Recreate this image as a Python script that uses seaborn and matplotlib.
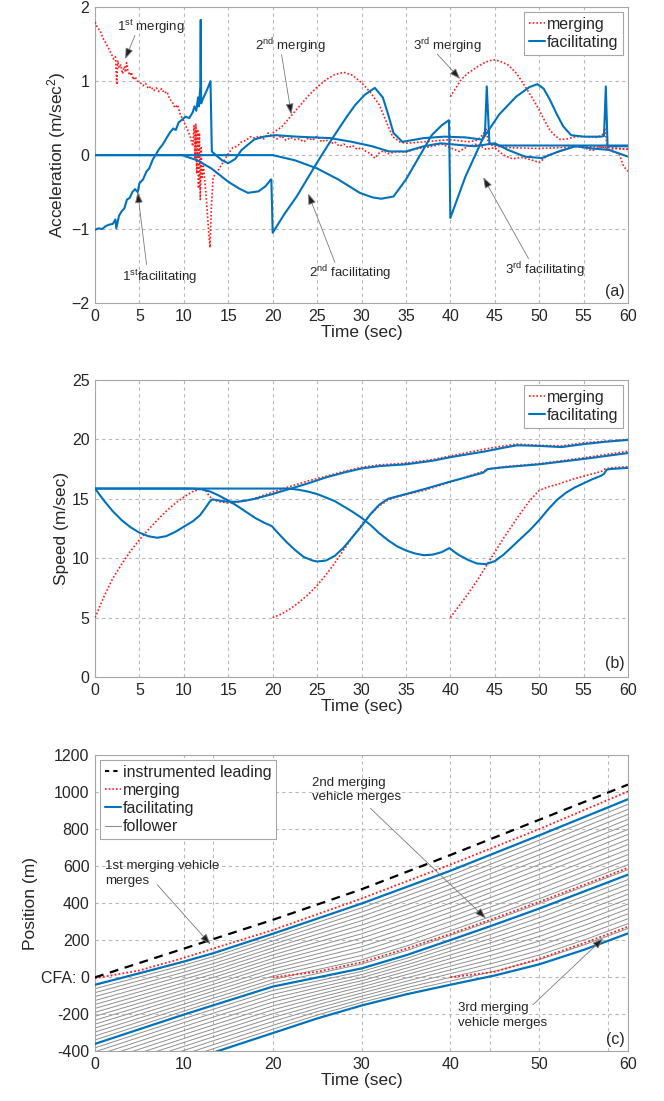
import numpy as np
import pandas as pd
import matplotlib
matplotlib.use('Agg')
import matplotlib.pyplot as plt
import seaborn as sns
from matplotlib.lines import Line2D
from matplotlib import font_manager

# ---------------- data: panel (a) acceleration ----------------
merg1_acc_t = [0, 0.3, 0.6, 0.9, 1.2, 1.5, 1.8, 2.1, 2.3, 2.45, 2.55, 2.7, 2.9, 3.1, 3.3, 3.45, 3.55, 3.7, 3.9,
               4.1, 4.3, 4.5, 4.8, 5.1, 5.4, 5.7, 6.0, 6.3, 6.6, 6.9, 7.2, 7.5, 7.8, 8.1, 8.4, 8.7, 9.0, 9.3,
               9.6, 9.9, 10.2, 10.5, 10.8, 11.0, 11.15, 11.25, 11.35, 11.45, 11.55, 11.65, 11.75, 11.85, 11.95,
               12.05, 12.2, 12.4, 12.6, 12.8, 12.95, 13.1, 13.3, 13.6, 14.0, 14.5, 15.0, 15.5, 16.0, 16.5, 17.0,
               17.5, 18.0, 18.5, 19.0, 19.5, 20.0, 20.5, 21.0, 21.5, 22.0, 22.5, 23.0, 23.5, 24.0, 24.5, 25.0,
               25.5, 26.0, 26.5, 27.0, 27.5, 28.0, 28.5, 29.0, 29.5, 30.0, 30.5, 31.0, 31.5, 32.0, 32.5, 33.0,
               34, 35, 36, 37, 38, 39, 40, 41, 42, 43, 44, 45, 46, 47, 48, 49, 50, 51, 52, 53, 54, 55, 56, 57,
               58, 59, 59.5, 60]
merg1_acc = [1.80, 1.72, 1.68, 1.58, 1.52, 1.45, 1.38, 1.30, 1.33, 0.95, 1.28, 1.18, 1.22, 1.10, 1.20, 1.12, 1.25,
             1.15, 1.08, 1.12, 1.02, 1.06, 1.00, 0.98, 0.94, 0.97, 0.90, 0.93, 0.87, 0.91, 0.86, 0.90, 0.84, 0.86,
             0.76, 0.72, 0.64, 0.68, 0.55, 0.48, 0.40, 0.32, 0.22, 0.12, 0.40, -0.05, 0.42, -0.25, 0.35, -0.45,
             0.30, -0.60, 0.10, -0.30, -0.15, -0.40, -0.70, -1.05, -1.25, -0.70, -0.30, -0.25, -0.18, -0.08, 0.02,
             0.10, 0.12, 0.18, 0.20, 0.25, 0.23, 0.26, 0.22, 0.30, 0.25, 0.22, 0.26, 0.20, 0.24, 0.21, 0.22, 0.18,
             0.23, 0.20, 0.26, 0.18, 0.21, 0.15, 0.18, 0.12, 0.15, 0.10, 0.13, 0.08, 0.10, 0.05, 0.02, -0.04, 0.03,
             0.06, 0.02, 0.05, 0.04, 0.08, 0.10, 0.12, 0.15, 0.10, 0.05, 0.12, 0.15, 0.08, 0.10, 0.00, -0.05, -0.03,
             -0.06, -0.10, 0.00, 0.04, 0.08, 0.12, 0.10, 0.06, 0.12, 0.06, 0.02, -0.15, -0.22]

merg2_acc_t = [20, 21, 22, 23, 24, 25, 26, 27, 28, 29, 30, 31, 32, 32.8, 33.5, 34.3, 35, 36, 38, 40, 42, 43,
               43.7, 44.0, 44.3, 45, 47, 50, 52, 55, 58, 60]
merg2_acc = [0.30, 0.38, 0.52, 0.66, 0.80, 0.92, 1.02, 1.09, 1.12, 1.08, 0.98, 0.85, 0.68, 0.45, 0.25, 0.18,
             0.16, 0.17, 0.19, 0.21, 0.18, 0.20, 0.28, 0.37, 0.15, 0.12, 0.10, 0.09, 0.10, 0.12, 0.10, 0.08]

merg3_acc_t = [40, 41.2, 42, 43.1, 44, 44.8, 45.6, 46.5, 47.5, 48.4, 49.2, 50, 50.6, 51.2, 51.8, 52.4, 53.2,
               54.1, 55, 56.5, 57.1, 57.4, 57.7, 58.5, 60]
merg3_acc = [0.79, 1.02, 1.11, 1.20, 1.26, 1.29, 1.27, 1.22, 1.10, 0.93, 0.78, 0.61, 0.47, 0.34, 0.26, 0.21,
             0.22, 0.25, 0.25, 0.24, 0.27, 0.36, 0.07, 0.09, 0.08]

fac1_acc_t = [0, 0.4, 0.8, 1.2, 1.6, 2.0, 2.3, 2.4, 2.7, 3.0, 3.3, 3.6, 3.9, 4.2, 4.5, 4.8, 5.0, 5.4, 5.8, 6.1,
              6.5, 6.9, 7.2, 7.6, 8.0, 8.4, 8.8, 9.1, 9.4, 9.8, 10.2, 10.6, 11.0, 11.2, 11.4, 11.6, 11.7, 11.85,
              11.9, 11.95, 12.0, 12.3, 12.6, 13.0, 13.15, 13.6, 14.3, 15.0, 15.8, 16.5, 17.2, 17.9, 19.0, 20.3,
              22.7, 24.5, 26.5, 28.9, 31.2, 33.1, 35.0, 37.0, 38.9, 40.8, 42.7, 45.0, 46.5, 48.4, 50.3, 52.2,
              54.1, 56.0, 57.9, 60]
fac1_acc = [-1.01, -0.99, -1.00, -0.96, -0.94, -0.93, -0.87, -0.99, -0.82, -0.76, -0.72, -0.60, -0.58, -0.50,
            -0.46, -0.50, -0.38, -0.33, -0.22, -0.18, -0.06, 0.02, 0.08, 0.14, 0.22, 0.30, 0.36, 0.34, 0.44, 0.48,
            0.52, 0.50, 0.58, 0.66, 0.60, 0.78, 0.66, 0.92, 1.83, 0.70, 0.72, 0.80, 0.88, 1.00, 0.05, 0.00, -0.07,
            -0.11, -0.05, 0.07, 0.14, 0.21, 0.25, 0.27, 0.25, 0.24, 0.23, 0.18, 0.12, 0.05, 0.05, 0.12, 0.16, 0.14,
            0.12, 0.16, 0.07, -0.02, -0.04, 0.05, 0.12, 0.09, 0.07, -0.02]

fac2_acc_t = [0, 9.8, 11.5, 13.1, 15.0, 16.2, 17.2, 18.4, 19.2, 19.8, 19.85, 20.0, 21.3, 22.7, 24.0, 25.0, 26.2,
              27.4, 28.4, 29.3, 30.4, 31.5, 32.4, 33.0, 33.6, 34.6, 37.0, 39.3, 41.7, 43.6, 43.9, 44.1, 44.4,
              45.5, 50, 55, 60]
fac2_acc = [0.0, 0.0, -0.07, -0.18, -0.36, -0.45, -0.51, -0.49, -0.42, -0.33, -0.33, -1.05, -0.80, -0.56, -0.30,
            -0.10, 0.13, 0.35, 0.53, 0.68, 0.82, 0.91, 0.78, 0.55, 0.30, 0.18, 0.23, 0.25, 0.24, 0.21, 0.30, 0.93,
            0.16, 0.13, 0.13, 0.13, 0.13]

fac3_acc_t = [0, 20, 22.5, 25, 27.4, 29.8, 31.2, 32.2, 33.6, 35.0, 36.5, 37.9, 39.0, 39.8, 39.85, 40.0, 41.7,
              43.6, 45.5, 47.4, 48.9, 49.8, 50.5, 51.2, 52.0, 52.7, 53.6, 55.0, 57.0, 57.3, 57.5, 57.7, 58.5, 60]
fac3_acc = [0.0, 0.0, -0.07, -0.18, -0.33, -0.51, -0.57, -0.59, -0.56, -0.33, -0.02, 0.27, 0.40, 0.47, 0.47,
            -0.85, -0.29, 0.21, 0.55, 0.79, 0.92, 0.96, 0.90, 0.75, 0.55, 0.39, 0.27, 0.25, 0.25, 0.26, 0.93, 0.12,
            0.12, 0.12]

# ---------------- data: panel (b) speed ----------------
merg1_v_t = [0, 1, 2, 3, 4, 5, 6, 7, 8, 9, 10, 11, 11.8, 12.4, 12.8, 13.2, 14, 15, 16, 17, 18, 19, 20, 22, 24,
             26, 28, 30, 32, 35, 38, 40, 42, 44, 46, 47.5, 50, 52.5, 55, 57.5, 60]
merg1_v = [5.0, 6.75, 8.3, 9.5, 10.6, 11.55, 12.4, 13.2, 13.95, 14.6, 15.15, 15.6, 15.8, 15.75, 15.3, 14.95,
           14.75, 14.65, 14.7, 14.85, 15.05, 15.3, 15.55, 16.05, 16.5, 16.9, 17.3, 17.65, 17.85, 18.0, 18.3, 18.6,
           18.9, 19.2, 19.45, 19.6, 19.5, 19.45, 19.7, 19.85, 20.0]

fac1_v_t = [0, 1, 2, 3, 4, 5, 6, 7, 8, 9, 10, 11, 11.8, 12.4, 12.9, 13.2, 14, 15, 16, 17, 18, 19, 20, 22, 24,
            26, 28, 30, 32, 35, 38, 40, 42, 44, 46, 47.5, 50, 52.5, 55, 57.5, 60]
fac1_v = [15.86, 14.85, 13.95, 13.2, 12.6, 12.15, 11.85, 11.72, 11.85, 12.2, 12.65, 13.1, 13.6, 14.2, 14.75,
          14.95, 14.85, 14.75, 14.75, 14.85, 15.0, 15.2, 15.4, 15.85, 16.3, 16.8, 17.2, 17.55, 17.75, 17.9, 18.2,
          18.5, 18.75, 19.0, 19.3, 19.5, 19.45, 19.35, 19.6, 19.8, 19.95]

fac2_v_t = [0, 10, 11, 12, 13, 14, 15, 16, 17, 18, 19, 19.9, 20.5, 21.5, 22.5, 23.5, 24.5, 25, 26, 27, 28, 29,
            30, 31, 32, 33, 34, 35, 37, 40, 42, 43.7, 44.2, 46, 50, 55, 60]
fac2_v = [15.86, 15.86, 15.85, 15.8, 15.6, 15.25, 14.85, 14.4, 13.9, 13.4, 13.0, 12.7, 12.2, 11.4, 10.7, 10.1,
          9.8, 9.72, 9.8, 10.2, 10.9, 11.8, 12.7, 13.7, 14.5, 15.0, 15.2, 15.4, 15.8, 16.45, 16.85, 17.2, 17.5,
          17.65, 17.9, 18.35, 18.85]

fac3_v_t = [0, 21.9, 23, 24, 25, 26, 27, 28, 29, 30, 31, 32, 33, 34, 35, 36, 37, 38, 39, 39.9, 40.5, 41, 42,
            43, 44, 45, 46, 47, 48, 49, 50, 51, 52, 53, 54, 55, 56, 57, 57.3, 57.6, 58, 60]
fac3_v = [15.86, 15.86, 15.75, 15.6, 15.4, 15.1, 14.8, 14.35, 13.9, 13.4, 12.8, 12.1, 11.5, 11.0, 10.65, 10.4,
          10.25, 10.3, 10.5, 10.85, 10.5, 10.25, 9.85, 9.55, 9.5, 9.75, 10.3, 11.0, 11.7, 12.4, 13.2, 14.1,
          14.9, 15.5, 15.95, 16.3, 16.65, 16.95, 17.1, 17.45, 17.5, 17.6]

merg2_v_t = [20, 21, 22, 23, 24, 25, 26, 27, 28, 29, 30, 31, 32, 33, 34, 35, 37, 40, 42, 43.7, 44.2, 46, 50,
             55, 60]
merg2_v = [5.0, 5.3, 5.75, 6.3, 6.95, 7.7, 8.6, 9.6, 10.7, 11.8, 12.8, 13.7, 14.4, 14.9, 15.15, 15.35, 15.7,
           16.4, 16.9, 17.3, 17.5, 17.7, 17.95, 18.45, 19.0]

merg3_v_t = [40, 41, 42, 43, 44, 45, 46, 47, 48, 49, 50, 51, 52, 53, 54, 55, 56, 57, 57.4, 58, 60]
merg3_v = [5.0, 6.0, 7.0, 8.1, 9.3, 10.5, 11.7, 12.8, 13.9, 14.9, 15.7, 16.0, 16.2, 16.45, 16.7, 16.9, 17.1,
           17.3, 17.5, 17.6, 17.7]

# ---------------- data: panel (c) position ----------------
lead_x_t = [0, 10, 20, 30, 40, 50, 60]
lead_x = [0, 155, 310, 475, 660, 850, 1040]
merg1_x_t = [0, 5, 10, 13.3, 20, 30, 40, 50, 60]
merg1_x = [-5, 37, 105, 155, 255, 425, 608, 800, 1003]
fac1_x_t = [0, 5, 10, 13.3, 20, 30, 40, 50, 60]
fac1_x = [-40, 22, 85, 130, 235, 398, 575, 766, 961]
merg2_x_t = [20, 25, 30, 35, 40, 44.5, 50, 55, 60]
merg2_x = [0, 30, 81, 154, 234, 310, 407, 498, 591]
fac2_x_t = [0, 10, 20, 25, 30, 35, 40, 44.5, 50, 60]
fac2_x = [-359, -201, -50, -1, 48, 119, 201, 276, 371, 554]
merg3_x_t = [40, 45, 50, 55, 60]
merg3_x = [0, 30, 100, 184, 273]
fac3_x_t = [0, 13.7, 20, 25, 30, 35, 40, 45, 50, 55, 60]
fac3_x = [-616, -400, -301, -222, -152, -92, -40, 10, 70, 148, 237]
followers_per_group = [14, 11]          # gray followers behind facilitating 1 and 2
merge_times = [13.3, 44.5, 57.7]        # extra dashed verticals in (c)

pos_ticks = [-400, -200, 0, 200, 400, 600, 800, 1000, 1200]
pos_ticklabels = ['-400', '-200', 'CFA: 0', '200', '400', '600', '800', '1000', '1200']

# ---------------- style ----------------
sns.set_theme(style='whitegrid')
avail = {f.name for f in font_manager.fontManager.ttflist}
fam = 'Liberation Sans Narrow' if 'Liberation Sans Narrow' in avail else 'Liberation Sans'
plt.rcParams['font.family'] = [fam, 'DejaVu Sans']
plt.rcParams['mathtext.fontset'] = 'custom'
plt.rcParams['mathtext.rm'] = fam
plt.rcParams['mathtext.it'] = fam + ':italic'

BLUE = '#0072BD'
RED = '#FF1A1A'
GRIDC = '#b8b8b8'
TXT = '#262626'
DOT = (0, (1, 1.2))

fig = plt.figure(figsize=(6.64, 11.01), dpi=100)
L, W = 0.1431, 0.8027
ax_a = fig.add_axes([L, 0.7248, W, 0.2686])
ax_b = fig.add_axes([L, 0.3851, W, 0.2698])
ax_c = fig.add_axes([L, 0.0450, W, 0.2693])


def line(ax, t, y, color, ls='-', lw=1.5, z=3):
    df = pd.DataFrame({'t': t, 'y': y})
    sns.lineplot(data=df, x='t', y='y', ax=ax, color=color, linestyle=ls, linewidth=lw,
                 estimator=None, sort=False, zorder=z)


def style(ax, xticks, yticks, ylim, ylabel, yticklabels=None):
    ax.set_xlim(0, 60)
    ax.set_ylim(*ylim)
    ax.set_xticks(xticks)
    ax.set_yticks(yticks)
    if yticklabels is not None:
        ax.set_yticklabels(yticklabels)
    ax.set_axisbelow(True)
    ax.grid(True, color=GRIDC, linestyle=(0, (3, 3)), linewidth=0.8)
    ax.set_facecolor('white')
    for s in ax.spines.values():
        s.set_visible(True)
        s.set_color('#a6a6a6')
        s.set_linewidth(0.8)
    ax.tick_params(labelsize=11.5, colors=TXT, length=0, pad=4)
    ax.set_xlabel('Time (sec)', fontsize=12.5, color=TXT, labelpad=1)
    ax.set_ylabel(ylabel, fontsize=12.5, color=TXT, labelpad=2)


def arrow(ax, tail, tip):
    ax.annotate('', xy=tip, xytext=tail,
                arrowprops=dict(arrowstyle='-|>,head_length=0.55,head_width=0.2',
                                edgecolor='#7a7a7a', facecolor='#222222', lw=0.6,
                                shrinkA=0, shrinkB=0), zorder=6)


# ---------------- panel (a) ----------------
line(ax_a, merg1_acc_t, merg1_acc, RED, DOT, 1.2)
line(ax_a, merg2_acc_t, merg2_acc, RED, DOT, 1.2)
line(ax_a, merg3_acc_t, merg3_acc, RED, DOT, 1.2)
line(ax_a, fac1_acc_t, fac1_acc, BLUE, '-', 1.5)
line(ax_a, fac2_acc_t, fac2_acc, BLUE, '-', 1.5)
line(ax_a, fac3_acc_t, fac3_acc, BLUE, '-', 1.5)
style(ax_a, range(0, 61, 5), [-2, -1, 0, 1, 2], (-2, 2), 'Acceleration (m/sec$^2$)')

fs_ann = 9.5
ax_a.text(2.5, 1.74, r'1$^{\mathrm{st}}$ merging', fontsize=fs_ann, color=TXT, va='center')
arrow(ax_a, (4.5, 1.62), (3.4, 1.30))
ax_a.text(18.0, 1.48, r'2$^{\mathrm{nd}}$ merging', fontsize=fs_ann, color=TXT, va='center')
arrow(ax_a, (21.0, 1.36), (22.1, 0.55))
ax_a.text(35.8, 1.48, r'3$^{\mathrm{rd}}$ merging', fontsize=fs_ann, color=TXT, va='center')
arrow(ax_a, (38.5, 1.37), (41.1, 1.03))
ax_a.text(3.0, -1.65, r'1$^{\mathrm{st}}$facilitating', fontsize=fs_ann, color=TXT, va='center')
arrow(ax_a, (5.8, -1.48), (4.8, -0.50))
ax_a.text(24.1, -1.60, r'2$^{\mathrm{nd}}$ facilitating', fontsize=fs_ann, color=TXT, va='center')
arrow(ax_a, (27.0, -1.45), (24.0, -0.52))
ax_a.text(46.1, -1.55, r'3$^{\mathrm{rd}}$ facilitating', fontsize=fs_ann, color=TXT, va='center')
arrow(ax_a, (48.8, -1.40), (43.7, -0.30))
ax_a.text(59.6, -1.84, '(a)', fontsize=11.5, color=TXT, ha='right', va='center')

h_merg = Line2D([], [], color=RED, linestyle=DOT, lw=1.2)
h_fac = Line2D([], [], color=BLUE, lw=1.5)
leg_kw = dict(fontsize=11.5, handlelength=1.0, handletextpad=0.15, borderpad=0.3, labelspacing=0.2,
              fancybox=False, framealpha=1, edgecolor='#a6a6a6', borderaxespad=0.3)
la = ax_a.legend([h_merg, h_fac], ['merging', 'facilitating'], loc='upper right', **leg_kw)
la.get_frame().set_linewidth(0.8)

# ---------------- panel (b) ----------------
line(ax_b, merg1_v_t, merg1_v, RED, DOT, 1.2)
line(ax_b, merg2_v_t, merg2_v, RED, DOT, 1.2)
line(ax_b, merg3_v_t, merg3_v, RED, DOT, 1.2)
line(ax_b, fac1_v_t, fac1_v, BLUE, '-', 1.5)
line(ax_b, fac2_v_t, fac2_v, BLUE, '-', 1.5)
line(ax_b, fac3_v_t, fac3_v, BLUE, '-', 1.5)
style(ax_b, range(0, 61, 5), range(0, 26, 5), (0, 25), 'Speed (m/sec)')
ax_b.text(59.6, 1.1, '(b)', fontsize=11.5, color=TXT, ha='right', va='center')
lb = ax_b.legend([h_merg, h_fac], ['merging', 'facilitating'], loc='upper right', **leg_kw)
lb.get_frame().set_linewidth(0.8)

# ---------------- panel (c) ----------------
tg = np.linspace(0, 60, 241)
f1 = np.interp(tg, fac1_x_t, fac1_x)
f2 = np.interp(tg, fac2_x_t, fac2_x)
f3 = np.interp(tg, fac3_x_t, fac3_x)
rows = []
for gi, (upper, lower) in enumerate([(f1, f2), (f2, f3)]):
    n = followers_per_group[gi]
    for k in range(1, n + 1):
        yk = upper + (lower - upper) * k / (n + 1)
        rows.append(pd.DataFrame({'t': tg, 'x': yk, 'veh': f'g{gi}_{k}'}))
fol = pd.concat(rows, ignore_index=True)
sns.lineplot(data=fol, x='t', y='x', units='veh', estimator=None, color='#8f8f8f', linewidth=0.7,
             ax=ax_c, zorder=2, sort=False)

for mt in merge_times:
    ax_c.axvline(mt, color=GRIDC, linestyle=(0, (3, 3)), linewidth=0.8, zorder=0.5)

line(ax_c, lead_x_t, lead_x, 'black', (0, (4, 3)), 1.6, 4)
line(ax_c, merg1_x_t, merg1_x, RED, DOT, 1.3)
line(ax_c, merg2_x_t, merg2_x, RED, DOT, 1.3)
line(ax_c, merg3_x_t, merg3_x, RED, DOT, 1.3)
line(ax_c, fac1_x_t, fac1_x, BLUE, '-', 1.6)
line(ax_c, fac2_x_t, fac2_x, BLUE, '-', 1.6)
line(ax_c, fac3_x_t, fac3_x, BLUE, '-', 1.6)
style(ax_c, range(0, 61, 10), pos_ticks, (-400, 1200), 'Position (m)', pos_ticklabels)

ax_c.text(1.1, 560, '1st merging vehicle\nmerges', fontsize=fs_ann, color=TXT, va='center', linespacing=1.3)
arrow(ax_c, (7.0, 500), (13.0, 178))
ax_c.text(24.4, 1011, '2nd merging\nvehicle merges', fontsize=fs_ann, color=TXT, va='center', linespacing=1.3)
arrow(ax_c, (31.0, 912), (44.0, 318))
ax_c.text(40.9, -206, '3rd merging\nvehicle merges', fontsize=fs_ann, color=TXT, va='center', linespacing=1.3)
arrow(ax_c, (49.3, -148), (57.2, 210))
ax_c.text(59.6, -337, '(c)', fontsize=11.5, color=TXT, ha='right', va='center')

h_lead = Line2D([], [], color='black', linestyle=(0, (2, 2)), lw=1.5)
h_fol = Line2D([], [], color='#8f8f8f', lw=0.8)
lc = ax_c.legend([h_lead, h_merg, h_fac, h_fol], ['instrumented leading', 'merging', 'facilitating', 'follower'],
                 loc='upper left', **leg_kw)
lc.get_frame().set_linewidth(0.8)

fig.savefig('out.png', dpi=100)
